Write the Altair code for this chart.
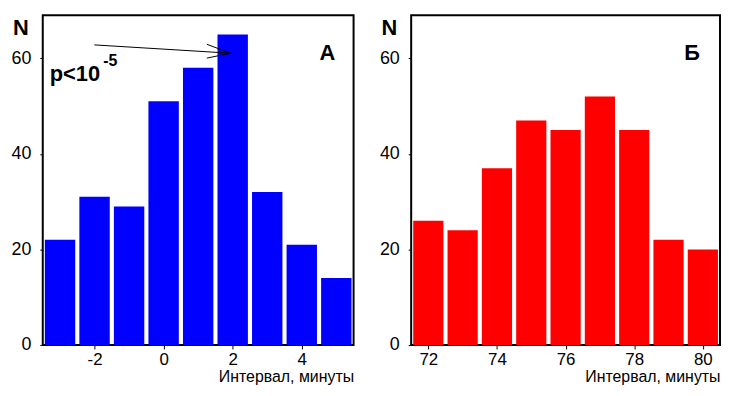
import altair as alt
import pandas as pd

# ---- data ----
left_x = [-3, -2, -1, 0, 1, 2, 3, 4, 5]
left_n = [22, 31, 29, 51, 58, 65, 32, 21, 14]
right_x = [72, 73, 74, 75, 76, 77, 78, 79, 80]
right_n = [26, 24, 37, 47, 45, 52, 45, 22, 20]
left_ticks = [-2, 0, 2, 4]
right_ticks = [72, 74, 76, 78, 80]
y_ticks = [0, 20, 40, 60]
x_title = "Интервал, минуты"
letters = ["А", "Б"]

# arrow annotation (left panel, data coordinates)
arrow_x0 = [-2.006, 1.251, 1.251]
arrow_y0 = [62.8, 62.93, 60.03]
arrow_x1 = [1.937, 1.937, 1.937]
arrow_y1 = [61.06, 61.06, 61.06]

FONT = "Liberation Sans"
H = 332
HALF = 0.44
YMAX = 69


def panel(xs, ns, domain, ticks, color, letter, width, letter_x, with_p=False):
    df = pd.DataFrame({"x": xs, "n": ns})
    xscale = alt.Scale(domain=domain, nice=False, zero=False)
    yscale = alt.Scale(domain=[0, YMAX], nice=False)
    xaxis = alt.Axis(values=ticks, title=x_title, grid=False, domain=False,
                     tickSize=4, tickColor="black", labelFont=FONT,
                     labelFontSize=17, labelColor="black", labelPadding=3,
                     labelExpr="'' + datum.value",
                     titleFont=FONT, titleFontSize=16, titleFontWeight="normal",
                     titleColor="black", titleAnchor="end", titleAlign="right",
                     titlePadding=1)
    yaxis = alt.Axis(values=y_ticks, title=None, grid=False, domain=False,
                     tickSize=3, tickColor="black", labelFont=FONT,
                     labelFontSize=18, labelColor="black", labelPadding=9)
    bars = alt.Chart(df).transform_calculate(
        x0=f"datum.x - {HALF}", x1=f"datum.x + {HALF}", z="0"
    ).mark_bar(color=color).encode(
        x=alt.X("x0:Q", scale=xscale, axis=xaxis),
        x2="x1:Q",
        y=alt.Y("n:Q", scale=yscale, axis=yaxis),
        y2="z:Q",
    )
    n_lbl = alt.Chart(pd.DataFrame({"t": ["N"]})).mark_text(
        font=FONT, fontSize=22, fontWeight="bold", align="center",
        baseline="alphabetic", color="black"
    ).encode(x=alt.value(-22), y=alt.value(20), text="t:N")
    let = alt.Chart(pd.DataFrame({"t": [letter]})).mark_text(
        font=FONT, fontSize=22, fontWeight="bold", align="center",
        baseline="alphabetic", color="black"
    ).encode(x=alt.value(letter_x), y=alt.value(45), text="t:N")
    layers = [bars, n_lbl, let]
    if with_p:
        p1 = alt.Chart(pd.DataFrame({"t": ["p<10"]})).mark_text(
            font=FONT, fontSize=22, fontWeight="bold", align="left",
            baseline="alphabetic", color="black"
        ).encode(x=alt.value(7), y=alt.value(66), text="t:N")
        p2 = alt.Chart(pd.DataFrame({"t": ["-5"]})).mark_text(
            font=FONT, fontSize=16, fontWeight="bold", align="left",
            baseline="alphabetic", color="black"
        ).encode(x=alt.value(61), y=alt.value(51), text="t:N")
        adf = pd.DataFrame({"x0": arrow_x0, "y0": arrow_y0,
                            "x1": arrow_x1, "y1": arrow_y1})
        arrow = alt.Chart(adf).mark_rule(color="black", strokeWidth=1).encode(
            x=alt.X("x0:Q", scale=xscale), x2="x1:Q",
            y=alt.Y("y0:Q", scale=yscale), y2="y1:Q",
        )
        layers += [p1, p2, arrow]
    return alt.layer(*layers).properties(width=width, height=H)


left = panel(left_x, left_n, [-3.5, 5.5], left_ticks, "#0000FF", letters[0], 313, 286.5, True)
right = panel(right_x, right_n, [71.5, 80.5], right_ticks, "#FF0000", letters[1], 311, 283)

chart = alt.hconcat(left, right, spacing=23).properties(
    padding={"left": 1, "top": 5, "right": 0, "bottom": 0}
).configure_view(stroke="black", strokeWidth=2)

chart.save("out.html", embed_options={"renderer": "svg", "actions": False})
